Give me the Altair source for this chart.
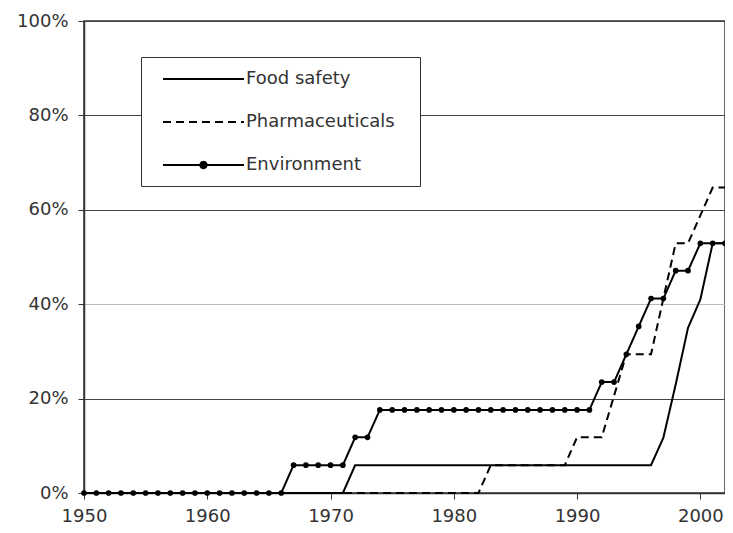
import altair as alt
import pandas as pd

years = list(range(1950, 2003))

# Share of countries (%) per year
food_safety = [
    0, 0, 0, 0, 0, 0, 0, 0, 0, 0,          # 1950-1959
    0, 0, 0, 0, 0, 0, 0, 0, 0, 0,          # 1960-1969
    0, 0, 5.9, 5.9, 5.9, 5.9, 5.9, 5.9, 5.9, 5.9,  # 1970-1979
    5.9, 5.9, 5.9, 5.9, 5.9, 5.9, 5.9, 5.9, 5.9, 5.9,  # 1980-1989
    5.9, 5.9, 5.9, 5.9, 5.9, 5.9, 5.9, 11.7, 23.0, 35.0,  # 1990-1999
    41.0, 52.9, 52.9,                      # 2000-2002
]
pharmaceuticals = [
    0, 0, 0, 0, 0, 0, 0, 0, 0, 0,
    0, 0, 0, 0, 0, 0, 0, 0, 0, 0,
    0, 0, 0, 0, 0, 0, 0, 0, 0, 0,
    0, 0, 0, 5.9, 5.9, 5.9, 5.9, 5.9, 5.9, 5.9,
    11.8, 11.8, 11.8, 20.6, 29.4, 29.4, 29.4, 41.2, 52.9, 52.9,
    58.8, 64.7, 64.7,
]
environment = [
    0, 0, 0, 0, 0, 0, 0, 0, 0, 0,
    0, 0, 0, 0, 0, 0, 0, 5.9, 5.9, 5.9,
    5.9, 5.9, 11.8, 11.8, 17.6, 17.6, 17.6, 17.6, 17.6, 17.6,
    17.6, 17.6, 17.6, 17.6, 17.6, 17.6, 17.6, 17.6, 17.6, 17.6,
    17.6, 17.6, 23.5, 23.5, 29.4, 35.3, 41.2, 41.2, 47.1, 47.1,
    52.9, 52.9, 52.9,
]
series_names = ["Food safety", "Pharmaceuticals", "Environment"]
x_ticks = [1950, 1960, 1970, 1980, 1990, 2000]
y_ticks = [0, 0.2, 0.4, 0.6, 0.8, 1.0]

rows = []
for name, vals in zip(series_names, [food_safety, pharmaceuticals, environment]):
    for yr, v in zip(years, vals):
        rows.append({"Year": yr, "Share": v / 100.0, "Series": name})
df = pd.DataFrame(rows)

FONT = "DejaVu Sans"
TXT = "#333333"

line_path = "M0,0H9"
env_path = "M0,0H9M4.85,0A0.35,0.35,0,1,1,4.15,0A0.35,0.35,0,1,1,4.85,0Z"
shape_expr = "datum.value === 'Environment' ? '%s' : '%s'" % (env_path, line_path)

x_enc = alt.X(
    "Year:Q",
    scale=alt.Scale(domain=[1950, 2002], nice=False, zero=False),
    axis=alt.Axis(values=x_ticks, format="d", grid=False, title=None,
                  labelPadding=8, labelFlush=False),
)
y_enc = alt.Y(
    "Share:Q",
    scale=alt.Scale(domain=[0, 1], nice=False),
    axis=alt.Axis(values=y_ticks, format=".0%", title=None, grid=True,
                  gridColor=alt.expr("abs(datum.value - 0.4) < 0.001 ? '#bbbbbb' : '#444444'"),
                  labelPadding=10),
)

legend = alt.Legend(
    title=None,
    orient="none",
    legendX=57,
    legendY=36,
    direction="vertical",
    padding=12,
    strokeColor="#333333",
    fillColor="white",
    symbolType=alt.expr(shape_expr),
    symbolSize=324,
    symbolStrokeWidth=2,
    symbolStrokeColor="black",
    symbolFillColor="black",
    symbolOffset=0,
    labelOffset=73,
    labelFont=FONT,
    labelFontSize=18,
    labelColor=TXT,
    labelLimit=300,
    labelExpr="datum.label + '\u2800'",
    rowPadding=24,
)

lines = alt.Chart(df).mark_line(color="black", strokeWidth=2).encode(
    x=x_enc,
    y=y_enc,
    strokeDash=alt.StrokeDash(
        "Series:N",
        scale=alt.Scale(domain=series_names, range=[[1, 0], [8, 5], [1, 0]]),
        legend=legend,
    ),
)

points = (
    alt.Chart(df)
    .transform_filter("datum.Series === 'Environment'")
    .mark_point(filled=True, color="black", size=32, opacity=1)
    .encode(x=x_enc, y=y_enc)
)

chart = (
    alt.layer(lines, points)
    .properties(
        width=641,
        height=472,
        autosize=alt.AutoSizeParams(type="none"),
        padding={"left": 76, "top": 13, "right": 0, "bottom": 32},
        background="white",
    )
    .configure_view(stroke="#333333", strokeWidth=1.5)
    .configure_axis(
        domainColor="#333333",
        tickColor="#333333",
        tickSize=6,
        labelFont=FONT,
        labelFontSize=18,
        labelColor=TXT,
        domainWidth=1.5,
    )
)

chart.save("out.html", embed_options={"renderer": "svg", "actions": False})
